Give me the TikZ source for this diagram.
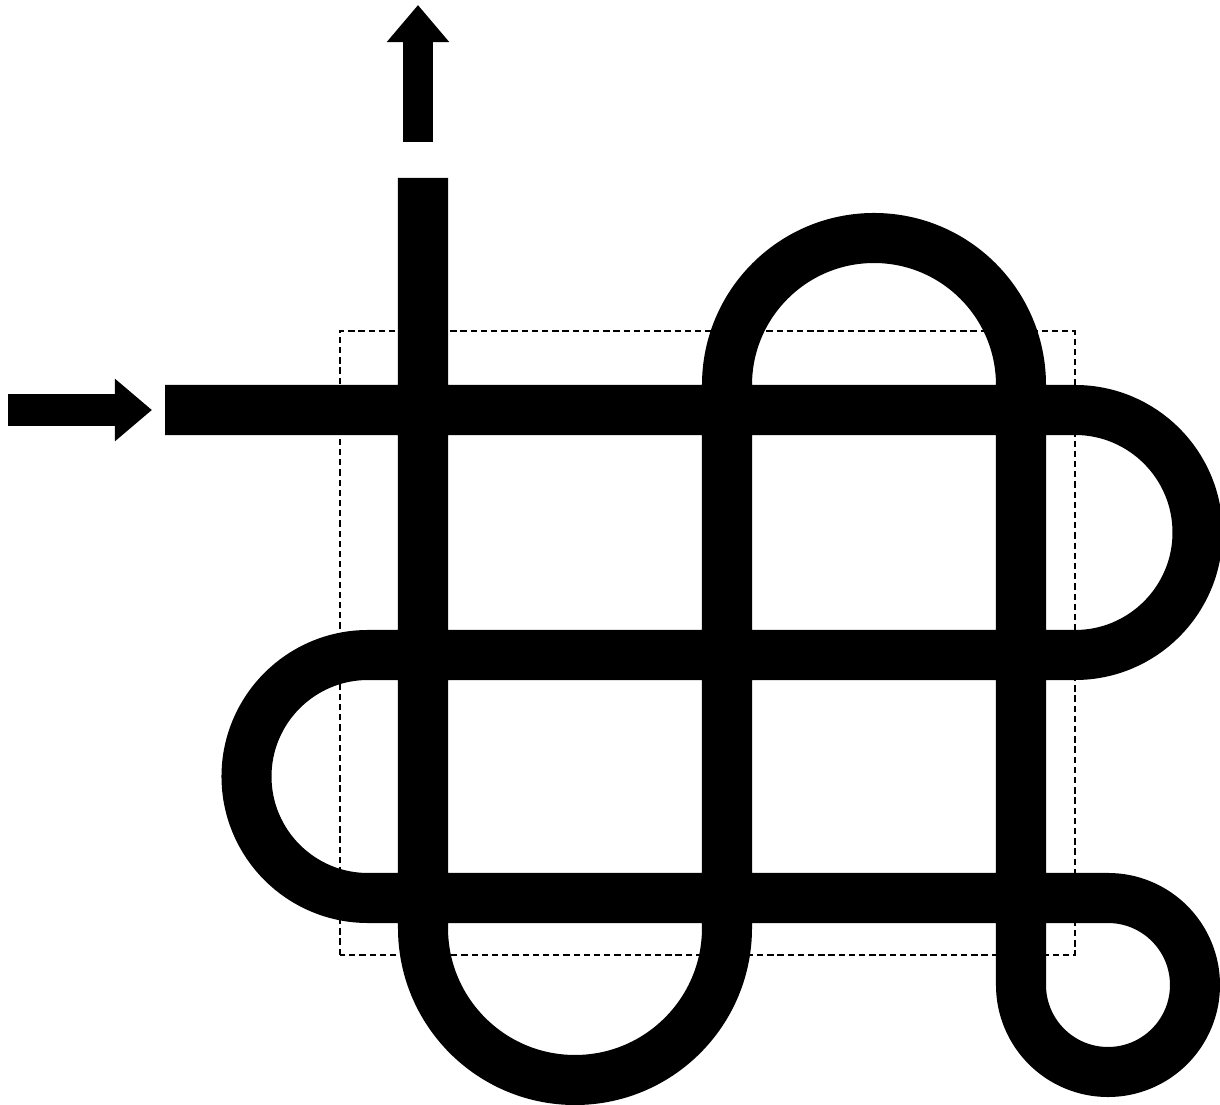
\documentclass[tikz,border=0pt]{standalone}
\usepackage{tikz}
\usetikzlibrary{arrows.meta}
\tikzset{
    knot/.style={draw=black, line width=0.5cm, line cap=butt, line join=round},
    blockarrow/.style={draw=black, line width=0.32cm, -{Triangle[length=0.37cm, width=0.6cm]}},
    frame/.style={draw=black, dash pattern=on 1.8pt off 1.1pt, line width=0.4pt}
}
\begin{document}
\begin{tikzpicture}[x=0.01cm, y=0.01cm]
    \useasboundingbox (0,0) rectangle (1220,1105);

    % Dashed frame
    \draw [frame] (340,150) rectangle (1075,774);

    % Ends of the strand
    \coordinate (inL)   at (8,695);
    \coordinate (inR)   at (152,695);
    \coordinate (start) at (165,695);
    \coordinate (stop)  at (423,927);
    \coordinate (outB)  at (418,963);
    \coordinate (outT)  at (418,1100);

    % Arrows
    \draw [blockarrow] (inL) -- (inR);
    \draw [blockarrow, line width=0.3cm] (outB) -- (outT);

    % Strand
    \draw [knot] (start) -- (1075,695)
        arc[start angle=90, end angle=-90, radius=122.5] -- (368,450)
        arc[start angle=90, end angle=270, radius=121.5] -- (1108,207)
        arc[start angle=90, end angle=-180, radius=87] -- (1021,720)
        arc[start angle=0, end angle=180, radius=147] -- (727,177)
        arc[start angle=0, end angle=-180, radius=152] -- (stop);

\end{tikzpicture}
\end{document}
